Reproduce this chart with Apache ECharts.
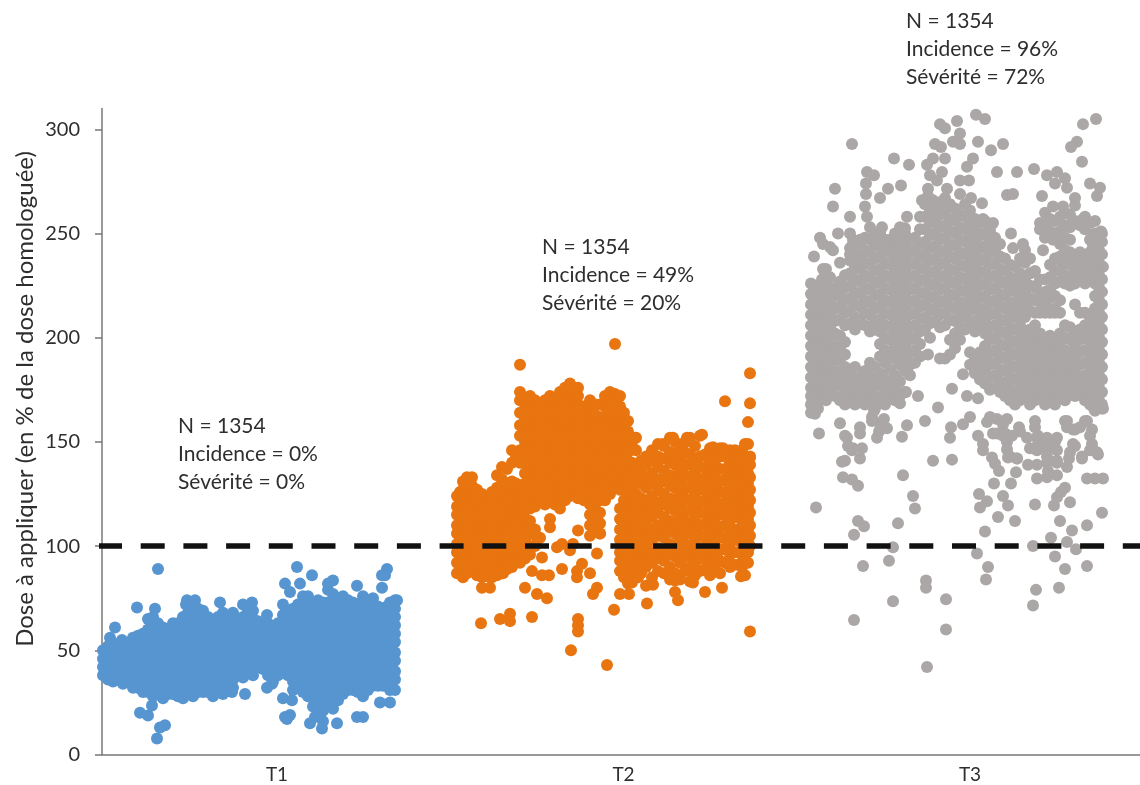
<!DOCTYPE html>
<html><head><meta charset="utf-8">
<style>html,body{margin:0;padding:0;background:#fff}#c{width:1140px;height:785px}</style>
<script src="https://cdn.jsdelivr.net/npm/echarts@6/dist/echarts.min.js"></script>
</head><body><div id="c"></div>
<script>
const categories = ['T1','T2','T3'];
const categoryPositions = [175,521.5,868];
const yTicks = [0,50,100,150,200,250,300];
const threshold = 100;
const yTitle = 'Dose à appliquer (en % de la dose homologuée)';
const notesT1 = ['N = 1354','Incidence = 0%','Sévérité = 0%'];
const notesT2 = ['N = 1354','Incidence = 49%','Sévérité = 20%'];
const notesT3 = ['N = 1354','Incidence = 96%','Sévérité = 72%'];

// each row: position along the x axis, then the doses read at that position
const t1Columns = [
[1,38,42,46,50],[6,36,40,44,48,52],[11,35,39,43,47,51],[16,36,41,45,49,53],[21,34,38,42,46,50,54],
[26,35,40,44,48,52],[31,32,36,40,45,49,53,56],[36,32,37,41,45,49,53,57],[41,30,34,38,42,47,51,55,58],[46,30,35,39,43,48,52,56,60],
[51,28,32,37,41,45,49,54,58,62,66],[56,29,33,37,42,46,50,55,59,63],
[61,27,31,35,40,44,48,52,57,61],[66,29,34,38,42,47,51,55,60],[71,29,33,37,42,46,50,54,59,63],[76,28,33,37,42,46,50,55,59,63],
[81,27,32,36,40,45,49,53,58,62,66],[86,29,34,38,43,47,51,56,60,64,68],
[91,28,33,37,41,46,50,55,59,64,69],[96,30,35,39,44,48,52,57,61,66,70],[101,30,35,39,44,48,52,57,61,66,69],[106,30,35,40,44,49,53,58,62,66],
[111,28,32,37,41,46,50,55,59,64],[116,30,34,39,44,48,53,57,62,66],
[121,29,33,38,42,47,51,56,60,65,68],[126,31,35,40,44,49,53,57,62,66],[131,32,36,41,45,50,54,58,62],[136,38,43,47,52,56,60,64],
[141,37,41,46,50,54,59,63,66],[146,39,43,48,52,57,61,65,69],
[151,38,43,47,51,56,60,65,69],[156,42,47,52,56,60,64],[161,41,45,50,54,58,62],[166,38,42,46,51,55,59,63],[171,35,39,44,48,53,57,61],
[176,38,42,46,51,55,59,63],[181,42,46,50,55,59,63,67,72],[186,38,44,48,52,57,61,65,69],
[191,31,35,40,44,49,53,58,62,66,70],[196,33,37,42,46,51,55,60,64,68,72],[201,30,34,39,44,48,53,57,62,66,71,76],[206,28,32,37,42,46,50,55,59,64,68,72,76],
[211,23,28,33,37,42,46,51,55,60,64,69,73],[216,20,25,30,35,39,44,48,53,57,62,66,71,74],
[221,16,21,26,31,36,41,45,50,55,59,64,68,73],[226,24,29,35,40,44,49,54,58,63,68,73,79],[231,22,28,33,38,42,47,52,56,61,66,71,77],[236,26,31,36,41,46,51,55,60,65,69,74],
[241,29,34,39,44,49,53,58,62,67,72,76],[246,31,36,42,47,51,56,60,65,70,74],
[251,31,36,41,45,50,55,60,64,69,73],[256,30,35,40,45,49,54,58,63,68,72],[261,28,34,39,43,48,53,57,62,67,72,76],[266,31,36,41,45,50,55,60,65,69,74],[271,33,38,43,47,52,57,62,67,71,75],
[276,33,38,43,47,52,57,62,67,71],[281,33,37,42,47,52,56,61,65,69],[285,36,40,44,49,53,58,62,66,71],[288,31,36,41,46,50,55,59,64,68,73],[293,36,40,45,49,54,58,62,66,70,74]
];
const t1Scattered = [
[8,56],[13,61],[20,55],[35,70.5],[56,89],[53,70],[46,65],[38,20],[46,18.7],[50,23.5],[55,7.7],[58,13],[63,14],
[84,72],[85,74],[93,74],[118,73],[131,68],[130,30],[141,72],[150,73],[143,29],[165,67],[165,32],[170,34],
[183,82],[188,78],[181,27],[190,26],[183,18],[188,19],[185,17],[195,90],[198,82],[210,86],[208,15],[220,12.5],
[213,18],[226,82],[231,83.5],[235,15],[255,81],[255,18],[261,18],[280,80],[280,86],[285,89],[283,86],[278,25],
[288,25],[295,74],[293,31]
];

const t2Columns = [
[355,87,92,97,101,106,110,115,119,124],[358,87,90,94,99,103,108,112,117,121,126],[361,85,90,95,99,104,108,113,118,122,127,131],[365,87,92,97,101,106,110,115,120,124,129,133],
[370,88,93,97,102,106,111,115,120,124,129,133],[375,86,91,95,100,104,109,113,118,122,127],[380,85,90,94,99,103,108,112,117,121,125],[385,87,92,96,101,105,110,114,119,123],
[390,85,89,94,98,103,107,112,116,121,126],[395,86,91,96,100,105,109,114,118,123,128,134],[400,87,91,96,100,105,109,114,118,123,127,132,138],[405,89,93,98,102,107,111,116,120,125,130,137],
[410,90,95,99,104,108,113,117,122,127,131,140,146],[414,94,99,103,108,112,117,122,126,130,143],
[418,92,97,101,106,110,115,119,124,128,140,146,153,158,164,170,174],[423,94,99,103,108,113,117,121,126,130,135,140,145,150,155,161,166,171],
[428,96,100,106,112,118,122,127,132,137,142,148,153,158,163,168,172],[433,100,108,119,124,130,135,140,145,150,155,160,165,170],
[438,104,122,127,132,137,142,147,152,157,162,167],[443,120,125,130,135,140,145,150,155,160,165,170],
[448,109,113,122,127,132,137,142,147,152,157,162,167,172],[453,120,125,130,135,140,145,150,155,160,165,171],
[458,118,123,128,133,138,143,148,153,158,163,168,174],[463,122,126,131,136,141,146,151,156,161,166,171,176],
[468,124,129,134,139,144,149,154,159,164,169,174,178],[472,126,131,136,141,146,151,156,161,166,171,176],
[476,123,128,133,138,143,148,153,158,163,168,172,176],[482,122,127,132,137,142,147,152,157,162,167],
[488,105,110,115,120,125,130,135,140,145,150,155,160,165,170],[493,108,113,118,123,128,133,138,143,148,153,158,163,168],
[498,106,111,116,122,127,132,137,142,147,152,157,162,168],[503,122,127,132,137,142,147,152,157,162,167,172],
[508,125,130,135,140,145,150,155,160,165,170,174],[513,128,133,138,143,148,153,158,163,168,173],
[518,88,93,97,103,108,113,118,127,132,137,142,147,152,157,162,167,172],[522,85,91,95,100,105,110,116,122,128,134,139,144,149,154,159,164],
[526,82,88,93,98,104,110,115,120,125,130,135,140,145,150,155,160],[530,85,91,96,101,107,112,118,123,128,134,140,148],
[534,88,94,99,104,110,115,120,125,132,138,146,152],[539,87,92,97,102,108,113,118,123,130,135,141],
[544,81,90,95,100,106,111,117,122,128,133,139,143],[550,85,92,97,103,108,114,119,124,130,135,141,146],[556,88,94,99,105,110,116,121,127,132,138,143,149],[562,87,93,98,104,109,114,120,125,131,136,142,148],
[568,84,90,96,101,107,112,118,123,129,134,140,145,152],[573,87,95,100,106,111,117,122,128,133,139,144,150],[578,84,92,98,103,109,114,120,125,131,136,141,147],[583,88,95,101,106,112,117,123,128,134,139,145,150],
[588,83,90,95,100,106,111,117,122,128,133,139,144,152],[593,86,92,97,103,108,114,119,125,130,136,141,148],[598,88,94,99,105,110,116,121,127,132,138,143,153],[603,89,94,100,105,111,116,122,127,133,138,144],
[608,86,91,97,102,108,113,119,124,130,135,141,147],[613,90,95,100,106,111,117,122,128,133,139,145],[618,87,93,98,104,109,115,120,126,131,137,143,147],[623,92,99,104,110,115,121,126,132,137,143],
[628,90,96,101,107,112,118,123,129,134,140,146],[632,91,97,103,108,114,120,125,131,136,141,145],[636,91,97,103,108,114,119,125,130,136,141,145],[640,90,96,101,107,112,118,123,129,134,140,146],
[643,86,93,99,104,110,115,121,126,132,137,143,149],[646,92,97,102,108,113,119,124,130,135,141],[648,100,105,110,116,122,127,133,139,143]
];
const t2Scattered = [
[513,197],[418,187],[379,63],[398,65],[408,67.5],[408,64],[430,66],[476,65],[476,62],[476,59],[469,50],[505,43],
[512,69.5],[518,77],[545,72.5],[530,82.5],[536,85],[551,81.5],[573,83.5],[573,78],[576,74],[591,82.5],[603,78],
[620,80],[639,85.5],[648,59],[648,183],[623,169.5],[648,168.5],[646,159.5],[646,149],[648,142.5],[533,152],
[571,152],[585,152],[600,153.5],[561,149],[611,147.5],[621,147],[633,146],[423,80],[435,77],[445,75],[447,86],
[460,89],[455,99.5],[460,101],[471,101],[476,107.5],[498,106],[495,96.5],[475,88],[480,91.5],[475,85],[488,87],
[495,80],[491,77],[468,98],[430,88],[435,104],[440,94.5],[380,80],[388,80],[388,85],[401,87],[440,86],[527,77]
];

const t3Columns = [
[709,164,168,172,176,181,186,191,196,201,206,211,216,221,226],[712,167,171,174,178,183,188,193,198,203,208,213,218,223],[716,166,170,175,180,185,190,195,200,205,210,215,220,225],
[720,172,177,182,187,192,197,202,207,212,217,222,228],[724,170,175,180,185,190,195,200,205,210,215,220,226,233],[728,175,181,187,193,199,205,211,217,223,229],[733,172,178,184,190,196,202,208,214,220,224],
[738,170,177,183,189,195,201,209,215,221,227,236],[743,168,174,180,186,192,198,206,212,218,224,230],[748,171,177,183,207,213,219,225,231,237,243,250],[753,168,174,180,186,204,210,216,222,228,234,240,246],
[758,170,175,181,208,215,221,227,233,239,245],[763,168,172,178,184,206,212,218,224,230,236,242,248],[768,169,175,181,188,203,211,217,223,229,235,241,247,253],[773,166,172,178,186,204,208,214,220,226,232,238,244,250],
[778,170,177,183,191,197,203,209,215,221,227,233,239,245,250],[783,168,174,180,188,194,200,206,212,218,224,230,236,242,247],[788,172,178,185,192,199,205,211,217,223,229,235,241,247],[793,170,176,182,190,196,202,208,214,220,226,232,238,244,250],
[798,172,179,187,193,199,205,211,217,223,229,235,241,247,253],[803,174,184,190,196,202,208,214,220,226,232,238,244,250],[808,182,187,193,199,205,211,217,223,229,235,241,247],[813,188,194,200,206,212,218,224,230,236,242,248],
[818,191,197,203,209,215,221,227,233,239,245,252,258],[823,204,210,216,222,228,234,240,246,252,258,264],[828,207,213,219,225,231,237,243,249,255,261],[833,208,214,220,226,232,238,244,250,256,262],
[838,205,211,217,223,229,235,241,247,253,259,265],[843,190,206,212,218,224,230,236,242,248,254,260,267],[848,192,199,209,215,221,227,233,239,245,251,257,264],[853,195,202,208,214,220,226,232,238,244,250,256,262],
[858,199,205,211,217,223,229,235,241,247,253,259],[863,204,210,216,222,228,234,240,246,252,258,264],[868,187,193,207,213,219,225,231,237,243,249,255,261],[873,184,190,203,208,216,222,228,234,240,246,252,257],
[878,180,187,193,206,212,219,225,231,237,243,249,255],[883,178,184,190,196,202,208,214,220,226,232,238,244,250,256],[888,175,181,187,193,199,205,211,217,223,229,235,241,247,253],[893,176,182,188,194,200,206,212,218,224,230,236,242,248],
[898,174,179,185,191,197,203,209,215,221,227,233,239,245],[903,172,178,184,190,196,202,208,214,220,226,232,238],[908,170,175,181,187,193,199,205,211,217,223,229,235],[913,168,174,180,186,192,198,204,210,216,222,228,234],
[918,170,176,182,188,194,200,206,213,219,225,231,238],[923,172,178,184,190,196,202,210,216,222,228,236,242],[928,168,174,180,186,192,198,204,213,219,225,231,238],[933,170,176,182,188,194,200,206,212,218,224,232],
[938,172,178,184,190,196,202,212,217,221,228,252],[943,168,174,180,186,192,198,212,216,222,228,248,254,260],[948,171,177,183,189,195,201,212,219,223,229,235,251,257],[953,168,174,180,186,192,198,212,214,220,226,232,238,250,256],
[958,172,178,184,190,196,202,212,218,227,233,239,245,251,258],[963,170,176,182,188,194,200,206,226,230,236,242,248,254,260],[968,174,180,186,192,199,205,225,229,235,241,247,253,259],[973,172,178,184,190,196,202,216,226,232,238,256],
[978,174,180,187,193,199,204,212,229,235,241,254],[983,170,176,182,188,194,200,206,212,226,232,238,252,258],[988,168,174,180,186,192,198,204,210,229,235,241,247,255],[993,166,172,178,184,190,196,202,208,214,220,226,232,238,244,250],
[997,170,176,182,188,194,200,206,212,218,224,230,236,242,248],[1000,168,174,180,186,192,198,204,210,216,222,228,234,240,246,250]
];
const t3Scattered = [
[750,293],[733,271.5],[731,263],[748,258],[792,286],[807,283],[765,279.5],[772,278],[764,274],[764,269],[786,271.5],
[799,273],[778,267],[763,263],[765,258],[780,253],[805,258],[803,252.5],[736,250],[718,248],[728,243.5],[712,239],
[721,233],[751,247],[758,247],[838,302.5],[843,300.5],[855,304],[874,307],[883,305],[858,298],[851,294],[858,293],
[833,293],[839,291.5],[876,294],[889,290],[901,293],[871,286],[865,282],[843,286],[831,286],[825,283],[895,279.5],
[915,279.5],[932,281],[945,278],[955,279.5],[953,274],[963,276.5],[965,272],[981,302.5],[994,305],[975,294],
[969,291.5],[980,284.5],[988,274],[998,272],[995,268],[905,268.5],[911,269],[940,268],[973,267],[951,263],[961,263],
[973,263.5],[909,250],[921,245],[840,279.5],[828,278],[835,275.5],[845,271.5],[858,275.5],[867,275.5],[858,269],
[869,267],[880,264.5],[826,271.5],[826,268],[820,266],[831,266],[828,200],[826,192],[838,190],[861,182.5],[873,183],
[713,163.5],[717,154],[738,159],[745,152],[758,154],[770,162],[778,159],[785,156.5],[775,152],[750,146],[740,140.5],
[758,142],[741,133],[750,132],[756,129],[714,118.5],[756,112],[762,109.5],[752,105.5],[796,111],[801,134],[800,152.5],
[811,124],[813,118],[791,99.5],[787,93],[761,90.5],[824,83.5],[824,80],[791,73.5],[844,74.5],[752,64.5],[844,60],[825,42],
[798,168.5],[804,174],[816,172],[823,160],[805,158],[836,166.5],[831,141],[850,141.5],[848,152],[849,157],[861,158.5],[868,162],
[850,175.5],[865,172],[876,171],[895,154],[903,154],[876,153],[881,149],[881,146],[890,142.5],[893,139.5],[897,136],[914,135.5],
[892,130],[909,130],[877,125],[885,121.5],[878,118.5],[901,124],[906,119.5],[896,114],[913,112],[883,107],[875,96.5],[886,90],
[884,84],[931,100],[933,120],[952,119.5],[968,121],[1000,116],[958,112],[970,107.5],[985,110],[949,104],[965,102],[974,98.5],
[953,95],[963,89],[985,90.5],[934,79],[957,80],[931,71.5],[955,123.5],[963,128],[959,126],
[933,160],[917,157],[905,150],[908,143],[915,142],[926,139],[935,132.5],[945,133],[955,134],[965,138],[985,132.5],[993,132.5],[1001,132.5],
[935,152],[945,152],[955,152],[935,146],[945,146],[955,146],[945,140],[955,140],[965,160],[973,156],[985,160],[988,153],[990,147],
[973,148],[967,142],[980,143],[996,144],[1000,166],[992,166],
[888,162],[895,161],[905,161],[885,159.5],[901,158.5],[891,154],[901,153],[910,153],[905,146.5],[906,142.5],[915,142],[918,155],[925,152],
[933,157],[936,153],[935,148],[953,150],[945,150],[928,147],[945,143],[955,141],[935,139],[946,136],[963,160],[971,156],[983,160],[990,156],
[990,149],[971,149],[968,145],[980,142],[995,145],[988,146],[993,165],[1001,166],[965,157],[978,157],
[743,153],[758,157],[751,147],[743,141],[760,147],[746,148],[772,165],[782,161],[777,155],[770,160],
[938,255],[945,251],[951,247],[961,248.5],[971,255],[981,257],[993,256],[999,251],[991,244],[941,242],[955,238],[961,238],[975,234],[988,233],[1001,234],
[911,243],[921,238],[929,231],[914,225],[934,225],
[721,245],[731,242],[748,240],[751,245],[758,237],[774,245],[784,245],[796,246],[808,247],[801,243],[778,250],
[831,258],[841,262],[855,258],[868,257],[881,257],[891,255],[888,251],[891,245]
];

const flatten = (columns, scattered) => {
  const out = [];
  columns.forEach(row => row.slice(1).forEach(dose => out.push([row[0], dose])));
  return out.concat(scattered);
};
const noteLine = (text, left, top) => ({type:'text', left, top, silent:true,
  style:{text, font:'21px Lato, "Open Sans", sans-serif', fill:'#2e2e2e'}});
const noteBlock = (lines, left, top) => lines.map((t,i)=>noteLine(t,left,top+i*28));
const dotSeries = (name, data, color) => ({type:'scatter', name, data, symbolSize:12, clip:false, silent:true,
  itemStyle:{color, opacity:1}});

const chart = echarts.init(document.getElementById('c'), null, {renderer:'canvas'});
chart.setOption({
  animation:false,
  backgroundColor:'#fff',
  grid:{left:102, right:0, top:108.5, bottom:30.5, containLabel:false},
  xAxis:{type:'value', min:0, max:1038, splitLine:{show:false},
    axisLine:{onZero:false, lineStyle:{color:'#777', width:1.5}},
    axisTick:{show:false},
    axisLabel:{customValues:categoryPositions, margin:11, fontSize:19, fontFamily:'Lato, "Open Sans", sans-serif', color:'#2e2e2e',
      formatter:v=>categories[categoryPositions.indexOf(v)]}},
  yAxis:{type:'value', min:0, max:310, splitLine:{show:false},
    axisLine:{show:true, lineStyle:{color:'#777', width:1.5}},
    axisTick:{show:true, length:7, customValues:yTicks, lineStyle:{color:'#777', width:1.5}},
    axisLabel:{customValues:yTicks, margin:22, fontSize:20, fontFamily:'Lato, "Open Sans", sans-serif', color:'#2e2e2e'}},
  series:[
    dotSeries('T1', flatten(t1Columns,t1Scattered), '#5795D0'),
    dotSeries('T2', flatten(t2Columns,t2Scattered), '#E97510'),
    dotSeries('T3', flatten(t3Columns,t3Scattered), '#ABA7A6'),
    {type:'line', name:'100 %', data:[[-4,threshold],[1038,threshold]], symbol:'none', clip:false, silent:true, z:5,
      lineStyle:{color:'#111', width:5.5, type:[24,18.7]}}
  ],
  graphic:[
    ...noteBlock(notesT1,178,416),
    ...noteBlock(notesT2,542,237),
    ...noteBlock(notesT3,906,11),
    {type:'text', x:25, y:399, rotation:Math.PI/2, silent:true,
      style:{text:yTitle, font:'24px Lato, "Open Sans", sans-serif', fill:'#2e2e2e', textAlign:'center', textVerticalAlign:'middle'}}
  ]
});
</script></body></html>
